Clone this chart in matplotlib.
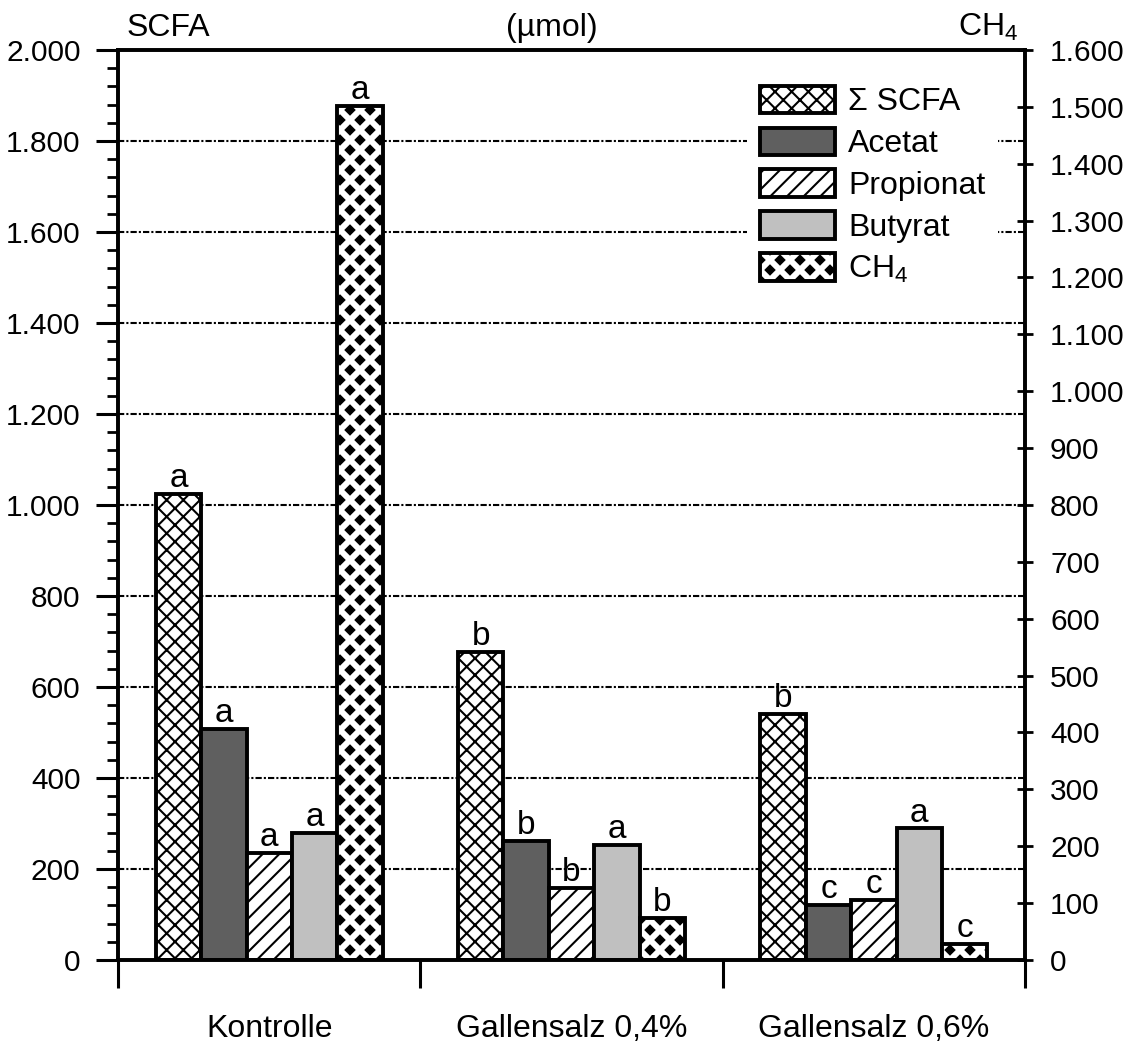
import numpy as np
import matplotlib
matplotlib.use("Agg")
import matplotlib.pyplot as plt
import matplotlib.hatch as mhatch
from matplotlib.path import Path
from matplotlib.ticker import MultipleLocator, FuncFormatter

# Daten
gruppen = ["Kontrolle", "Gallensalz 0,4%", "Gallensalz 0,6%"]
serien = ["Σ SCFA", "Acetat", "Propionat", "Butyrat", "CH$_4$"]
summe_scfa = [1024, 677, 541]
acetat = [507, 262, 120]
propionat = [236, 158, 132]
butyrat = [280, 253, 289]
ch4 = [1501, 74, 28]          # rechte Achse
buchst_summe = ["a", "b", "b"]
buchst_acetat = ["a", "b", "c"]
buchst_propionat = ["a", "b", "c"]
buchst_butyrat = ["a", "a", "a"]
buchst_ch4 = ["a", "b", "c"]

plt.rcParams["font.family"] = ["Liberation Sans", "DejaVu Sans"]
plt.rcParams["mathtext.fontset"] = "custom"
plt.rcParams["mathtext.rm"] = "Liberation Sans"
plt.rcParams["mathtext.it"] = "Liberation Sans:italic"
plt.rcParams["mathtext.default"] = "regular"
plt.rcParams["hatch.linewidth"] = 1.5
plt.rcParams["hatch.color"] = "black"

FS = 23


# Rautenmuster fuer CH4 (ersetzt das '*'-Muster)
class RautenHatch(mhatch.HatchPatternBase):
    def __init__(self, hatch, density):
        n = hatch.count("*")
        self.mitten = []
        if n:
            nx, ny = 5, 10
            for j in range(ny + 1):
                off = 0 if j % 2 == 0 else 0.5 / nx
                for i in range(nx + 1):
                    self.mitten.append((i / nx + off, j / ny))
        self.num_vertices = len(self.mitten) * 5

    def set_vertices_and_codes(self, vertices, codes):
        r = 0.043
        d = np.array([[0, r], [r, 0], [0, -r], [-r, 0], [0, r]])
        for k, (mx, my) in enumerate(self.mitten):
            vertices[k * 5:(k + 1) * 5] = d + (mx, my)
            codes[k * 5] = Path.MOVETO
            codes[k * 5 + 1:k * 5 + 4] = Path.LINETO
            codes[k * 5 + 4] = Path.CLOSEPOLY


mhatch._hatch_types[mhatch._hatch_types.index(mhatch.Stars)] = RautenHatch

fig = plt.figure(figsize=(11.37, 10.44), dpi=100)
ax = fig.add_axes([0.1038, 0.0805, 0.7977, 0.8716])
ax2 = ax.twinx()

x = np.arange(len(gruppen)) + 0.5
w = 0.15
stil = dict(edgecolor="black", linewidth=2.8)

b1 = ax.bar(x - 2 * w, summe_scfa, w, color="white", hatch="xx", **stil)
b2 = ax.bar(x - w, acetat, w, color="#5f5f5f", **stil)
b3 = ax.bar(x, propionat, w, color="white", hatch="//", **stil)
b4 = ax.bar(x + w, butyrat, w, color="#c0c0c0", **stil)
b5 = ax2.bar(x + 2 * w, ch4, w, color="white", hatch="*", **stil)


def buchstaben(achse, balken, texte):
    for p, t in zip(balken.patches, texte):
        achse.annotate(t, (p.get_x() + p.get_width() / 2, p.get_height()),
                       xytext=(0, 5), textcoords="offset points",
                       ha="center", va="baseline", fontsize=24)


buchstaben(ax, b1, buchst_summe)
buchstaben(ax, b2, buchst_acetat)
buchstaben(ax, b3, buchst_propionat)
buchstaben(ax, b4, buchst_butyrat)
buchstaben(ax2, b5, buchst_ch4)

# Achsen
ax.set_xlim(0, 3)
ax.set_ylim(0, 2000)
ax2.set_ylim(0, 1600)
deutsch = FuncFormatter(lambda v, p: f"{v:,.0f}".replace(",", "."))
ax.yaxis.set_major_locator(MultipleLocator(200))
ax.yaxis.set_minor_locator(MultipleLocator(40))
ax.yaxis.set_major_formatter(deutsch)
ax2.yaxis.set_major_locator(MultipleLocator(100))
ax2.yaxis.set_major_formatter(deutsch)

ax.tick_params(axis="y", which="major", direction="out", length=16, width=2.2,
               pad=11, labelsize=21.5)
ax.tick_params(axis="y", which="minor", direction="out", length=8, width=2)
ax2.tick_params(axis="y", direction="inout", length=12, width=2, pad=12,
                labelsize=21.5)
ax.set_xticks([0, 1, 2, 3])
ax.set_xticklabels([])
ax.tick_params(axis="x", direction="out", length=20, width=2.2)

for a in (ax, ax2):
    for s in a.spines.values():
        s.set_linewidth(2.6)

ax.yaxis.grid(True, which="major", color="black", linestyle=(0, (3, 1, 1, 1)),
              linewidth=1.5)
ax.set_axisbelow(True)

for xi, g in zip(x, gruppen):
    ax.text(xi, -0.0846, g, transform=ax.get_xaxis_transform(),
            ha="center", va="baseline", fontsize=FS)

fig.text(127 / 1137, 0.9655, "SCFA", ha="left", va="baseline", fontsize=FS)
fig.text(552 / 1137, 0.9655, "(µmol)", ha="center", va="baseline", fontsize=FS)
fig.text(1018 / 1137, 0.9655, "CH$_4$", ha="right", va="baseline", fontsize=FS)

leg = ax2.legend([b1, b2, b3, b4, b5], serien, loc="upper left",
                 bbox_to_anchor=(0.694, 0.975), frameon=True, fancybox=False,
                 facecolor="white", edgecolor="none", framealpha=1,
                 fontsize=FS, handlelength=2.35, handleheight=0.95,
                 labelspacing=0.32, handletextpad=0.4, borderpad=0.4,
                 borderaxespad=0)

fig.savefig("out.png", dpi=100)
